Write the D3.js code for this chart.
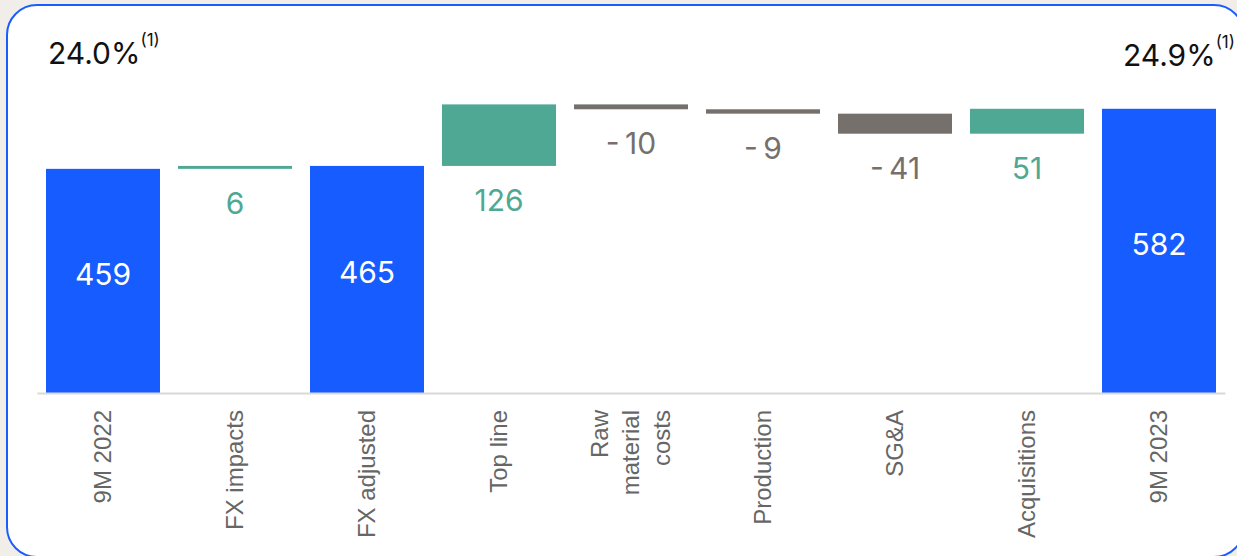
<!DOCTYPE html>
<html>
<head>
<meta charset="utf-8">
<script src="https://cdn.jsdelivr.net/npm/d3@7"></script>
<style>
  body { margin: 0; background: #f1eeea; }
  svg { display: block; }
  text { font-family: Inter, "Liberation Sans", sans-serif; }
</style>
</head>
<body>
<div id="chart"></div>
<script>
// categories along the x axis (line breaks for wrapped labels)
var categories = ["9M 2022", "FX impacts", "FX adjusted", "Top line", "Raw|material|costs",
  "Production", "SG&A", "Acquisitions", "9M 2023"];
// step values: totals are full bars, deltas float
var values = [459, 6, 465, 126, -10, -9, -41, 51, 582];
var kinds = ["total", "delta", "total", "delta", "delta", "delta", "delta", "delta", "total"];
var marginLabels = ["24.0%", "24.9%"];

var W = 1237, H = 556;
var blue = "#175cff", teal = "#4fa893", grey = "#76706c";

var svg = d3.select("#chart").append("svg")
  .attr("width", W)
  .attr("height", H);

// the card
svg.append("rect")
  .attr("x", 7).attr("y", 5)
  .attr("width", 1237).attr("height", 552)
  .attr("rx", 30).attr("ry", 30)
  .attr("fill", "#fff")
  .attr("stroke", "#1a5cff")
  .attr("stroke-width", 2);

// build running totals for the waterfall
var running = 0;
var bars = values.map(function (v, i) {
  var b;
  if (kinds[i] === "total") {
    running = v;
    b = { lo: 0, hi: v };
  } else {
    b = { lo: Math.min(running, running + v), hi: Math.max(running, running + v) };
    running += v;
  }
  b.name = categories[i];
  b.value = v;
  b.kind = kinds[i];
  return b;
});

var x = d3.scaleBand()
  .domain(categories)
  .range([37, 1225])
  .paddingInner(0.1364)
  .paddingOuter(0.0682);

var y = d3.scaleLinear()
  .domain([0, 600])
  .range([393, 100]);

function barColor(d) {
  if (d.kind === "total") return blue;
  return d.value >= 0 ? teal : grey;
}

svg.selectAll(".bar")
  .data(bars)
  .enter().append("rect")
  .attr("class", "bar")
  .attr("x", function (d) { return x(d.name); })
  .attr("width", x.bandwidth())
  .attr("y", function (d) { return y(d.hi); })
  .attr("height", function (d) { return y(d.lo) - y(d.hi); })
  .attr("fill", barColor);

// baseline
var axis = svg.append("g")
  .attr("transform", "translate(0,393)")
  .call(d3.axisBottom(x).tickSize(0).tickFormat(""));
axis.select(".domain").attr("stroke", "#d9d9d9").attr("stroke-width", 2);

// category labels, rotated
svg.selectAll(".cat")
  .data(bars)
  .enter().append("text")
  .attr("class", "cat")
  .attr("transform", function (d) {
    return "translate(" + (x(d.name) + x.bandwidth() / 2) + ",410) rotate(-90)";
  })
  .attr("text-anchor", "end")
  .attr("font-size", 24)
  .style("font-family", "'Liberation Sans', Arial, sans-serif")
  .attr("fill", "#666")
  .each(function (d) {
    var lines = d.name.split("|");
    var t = d3.select(this);
    lines.forEach(function (l, j) {
      t.append("tspan")
        .attr("x", 0)
        .attr("y", (j - (lines.length - 1) / 2) * 31)
        .attr("dy", "0.35em")
        .text(l);
    });
  });

// value labels
svg.selectAll(".val")
  .data(bars)
  .enter().append("text")
  .attr("class", "val")
  .attr("x", function (d) { return x(d.name) + x.bandwidth() / 2; })
  .attr("y", function (d) {
    if (d.kind === "total") return (y(d.lo) + y(d.hi)) / 2 + 4;
    return y(d.lo) + 45;
  })
  .attr("text-anchor", "middle")
  .attr("font-size", 30)
  .attr("fill", function (d) { return d.kind === "total" ? "#fff" : barColor(d); })
  .text(function (d) { return d.value < 0 ? "-\u2009" + Math.abs(d.value) : d.value; });

// margin annotations
var left = svg.append("text")
  .attr("x", 48).attr("y", 64)
  .attr("font-size", 30)
  .attr("fill", "#111");
left.append("tspan").text(marginLabels[0]);
left.append("tspan").attr("font-size", 17).attr("dy", -18).text("(1)");

var right = svg.append("text")
  .attr("x", 1235).attr("y", 66)
  .attr("text-anchor", "end")
  .attr("font-size", 30)
  .attr("fill", "#111");
right.append("tspan").text(marginLabels[1]);
right.append("tspan").attr("font-size", 17).attr("dy", -18).text("(1)");
</script>
</body>
</html>
